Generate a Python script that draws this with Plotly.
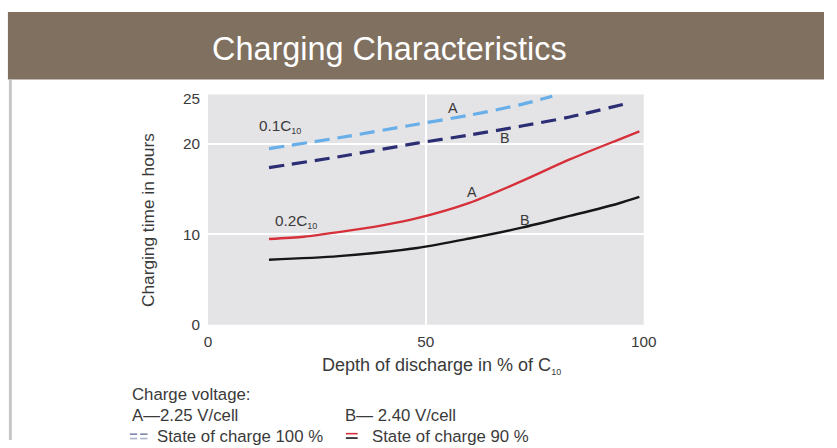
import plotly.graph_objects as go

# Depth of discharge (% of C10) and charging time (h) for each curve
dod_a100 = [14, 30, 48, 60, 72, 79]
time_a100 = [19.5, 20.7, 22.2, 23.2, 24.4, 25.3]

dod_b100 = [14, 30, 48, 60, 72, 83, 97]
time_b100 = [17.4, 18.6, 20.1, 21.0, 22.0, 23.0, 24.6]

dod_a90 = [14, 22, 30, 40, 48, 60, 72, 83, 94, 99]
time_a90 = [9.5, 9.75, 10.25, 11.0, 11.8, 13.5, 15.9, 18.3, 20.45, 21.4]

dod_b90 = [14, 30, 48, 60, 72, 83, 94, 99]
time_b90 = [7.2, 7.6, 8.5, 9.55, 10.75, 12.05, 13.4, 14.15]

x_ticks = [0, 50, 100]
y_ticks = [0, 10, 20, 25]

FONT = "Liberation Sans, Arial, sans-serif"
TXT = "#3a3a3a"
W, H = 837, 448
SUB10 = "<sub><span style='font-size:9px'>10</span></sub>"


def px(x):
    return x / W


def py(y):
    return 1 - y / H


fig = go.Figure()

series = [
    (dod_a100, time_a100, "#68aee8", 3.2, "15px,8px"),
    (dod_b100, time_b100, "#2c2e74", 3.2, "15px,8px"),
    (dod_a90, time_a90, "#d6303b", 2.4, "solid"),
    (dod_b90, time_b90, "#161616", 2.4, "solid"),
]
for xs, ys, color, width, dash in series:
    fig.add_trace(go.Scatter(
        x=xs, y=ys, mode="lines",
        line=dict(color=color, width=width, dash=dash, shape="spline", smoothing=0.8),
        hoverinfo="skip", showlegend=False,
    ))

annotations = []

# Curve labels
curve_labels = [
    ("0.1C" + SUB10, 11.2, 22.0, "left", 15.3),
    ("0.2C" + SUB10, 14.9, 11.4, "left", 15.3),
    ("A", 56.3, 24.0, "center", 14.3),
    ("B", 68.1, 20.7, "center", 14.3),
    ("A", 60.5, 14.7, "center", 14.3),
    ("B", 72.7, 11.6, "center", 14.3),
]
for text, x, y, anchor, size in curve_labels:
    annotations.append(dict(
        text=text, x=x, y=y, xref="x", yref="y", xanchor=anchor, yanchor="middle",
        showarrow=False, font=dict(family=FONT, size=size, color=TXT),
    ))

# Header and axis titles
annotations.append(dict(
    text="Charging Characteristics", x=px(393), y=py(46), xref="paper", yref="paper",
    xanchor="center", yanchor="middle", showarrow=False,
    font=dict(family=FONT, size=32.4, color="white"),
))
annotations.append(dict(
    text="Charging time in hours", x=px(147), y=py(222), xref="paper", yref="paper",
    xanchor="center", yanchor="middle", textangle=-90, showarrow=False,
    font=dict(family=FONT, size=17.3, color=TXT),
))
annotations.append(dict(
    text="Depth of discharge in % of C" + SUB10, x=px(447), y=py(372),
    xref="paper", yref="paper", xanchor="center", yanchor="middle", showarrow=False,
    font=dict(family=FONT, size=18, color=TXT),
))

# Key beneath the chart
key_lines = [
    ("Charge voltage:", 128.5, 401),
    ("A\u20142.25 V/cell", 128.5, 423),
    ("B\u2014 2.40 V/cell", 346, 423),
    ("State of charge 100 %", 154, 444),
    ("State of charge 90 %", 374, 444),
]
for text, x, y in key_lines:
    annotations.append(dict(
        text=text, x=px(x), y=py(y), xref="paper", yref="paper",
        xanchor="left", yanchor="middle", showarrow=False,
        font=dict(family=FONT, size=16.8, color=TXT),
    ))

shapes = [
    # header band
    dict(type="rect", xref="paper", yref="paper", x0=px(4), x1=1, y0=py(77.6), y1=py(8.2),
         fillcolor="#807060", line=dict(width=0), layer="below"),
    # left page rule
    dict(type="rect", xref="paper", yref="paper", x0=px(5), x1=px(8), y0=0, y1=py(77.6),
         fillcolor="#c6c6c6", line=dict(width=0), layer="below"),
    # key symbols: dashed pair
    dict(type="line", xref="paper", yref="paper", x0=px(128.5), x1=px(136), y0=py(442), y1=py(442),
         line=dict(color="#7c86a8", width=1.6)),
    dict(type="line", xref="paper", yref="paper", x0=px(139), x1=px(146.5), y0=py(442), y1=py(442),
         line=dict(color="#7c86a8", width=1.6)),
    dict(type="line", xref="paper", yref="paper", x0=px(128.5), x1=px(136), y0=py(446.5), y1=py(446.5),
         line=dict(color="#a9b4c8", width=1.6)),
    dict(type="line", xref="paper", yref="paper", x0=px(139), x1=px(146.5), y0=py(446.5), y1=py(446.5),
         line=dict(color="#a9b4c8", width=1.6)),
    # key symbols: solid pair
    dict(type="line", xref="paper", yref="paper", x0=px(349), x1=px(361), y0=py(441.5), y1=py(441.5),
         line=dict(color="#d6303b", width=1.6)),
    dict(type="line", xref="paper", yref="paper", x0=px(349), x1=px(361), y0=py(446), y1=py(446),
         line=dict(color="#161616", width=1.6)),
]

fig.update_layout(
    width=W, height=H, autosize=False,
    margin=dict(l=0, r=0, t=0, b=0),
    paper_bgcolor="white", plot_bgcolor="#e4e4e6",
    font=dict(family=FONT, color=TXT),
    annotations=annotations, shapes=shapes,
    xaxis=dict(
        domain=[px(208.2), px(653)], range=[0, 100], tickvals=x_ticks,
        ticktext=[str(v) for v in x_ticks], showgrid=False, zeroline=False,
        showline=False, ticks="", ticklabelstandoff=6,
        tickfont=dict(family=FONT, size=15.3, color=TXT),
        minor=dict(tickvals=[50], showgrid=True, gridcolor="white", gridwidth=1.5, ticks=""),
    ),
    yaxis=dict(
        domain=[py(329.6), py(92.9)], range=[0, 25.5], tickvals=y_ticks,
        ticktext=[str(v) for v in y_ticks], showgrid=False, zeroline=False,
        showline=False, ticks="", ticklabelstandoff=7,
        tickfont=dict(family=FONT, size=15.3, color=TXT),
        minor=dict(tickvals=[10, 20], showgrid=True, gridcolor="white", gridwidth=1.5, ticks=""),
    ),
)

fig.write_html("out.html")
